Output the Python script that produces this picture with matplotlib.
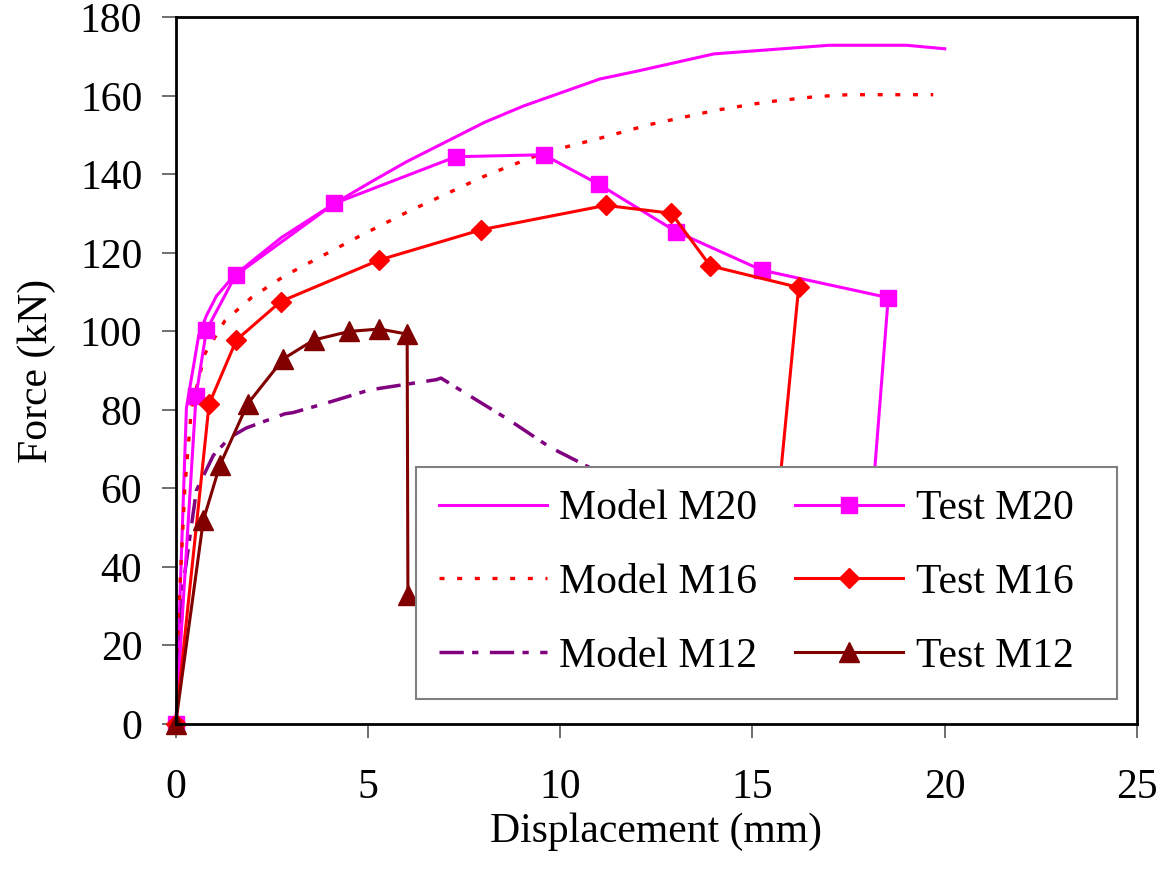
import matplotlib
matplotlib.use('Agg')
import matplotlib.pyplot as plt

plt.rcParams['font.family'] = ['Liberation Serif', 'DejaVu Serif']

# model curves (displacement mm, force kN)
model_m20_x = [0, 0.28, 0.6, 0.8, 1.06, 1.5, 2.1, 2.75, 4.13, 5.05, 6.0, 8.04, 9.04, 11.03, 12.0, 14.0, 17.0, 19.0, 20.0]
model_m20_y = [0, 80.5, 99.0, 104.0, 109.0, 114.0, 118.8, 123.9, 132.6, 137.9, 143.2, 153.3, 157.4, 164.3, 166.3, 170.7, 172.9, 172.9, 172.0]

model_m16_x = [0, 0.11, 0.24, 0.41, 0.76, 1.28, 1.97, 2.84, 4.79, 6.02, 8.04, 9.56, 11.03, 12.33, 14.03, 15.33, 16.63, 17.49, 19.7]
model_m16_y = [0, 34.9, 60.3, 80.3, 94.3, 102.7, 108.6, 114.2, 124.3, 130.4, 139.6, 145.5, 149.2, 152.7, 156.3, 158.4, 159.8, 160.3, 160.3]

model_m12_x = [0, 0.2, 0.54, 0.98, 1.41, 1.84, 2.84, 3.05, 3.84, 5.05, 6.78, 6.9, 7.56, 8.69, 9.73, 10.77, 12.5]
model_m12_y = [0, 35.8, 59.5, 68.4, 73.0, 75.4, 79.0, 79.3, 81.5, 85.1, 87.7, 88.1, 84.1, 77.3, 70.5, 65.3, 55.0]

# test results
test_m20_x = [0, 0.53, 0.8, 1.56, 4.13, 7.29, 9.57, 11.0, 13.02, 15.24, 18.53, 17.9]
test_m20_y = [0, 83.5, 100.3, 114.3, 132.6, 144.5, 145.0, 137.5, 125.4, 115.6, 108.6, 30.0]

test_m16_x = [0, 0.87, 1.58, 2.73, 5.30, 7.95, 11.18, 12.89, 13.90, 16.2, 15.4]
test_m16_y = [0, 81.5, 97.8, 107.6, 118.2, 125.9, 132.1, 130.1, 116.7, 111.2, 30.0]

test_m12_x = [0, 0.72, 1.15, 1.87, 2.80, 3.59, 4.52, 5.30, 6.02, 6.04]
test_m12_y = [0, 51.9, 65.9, 81.5, 93.0, 97.8, 100.0, 100.6, 99.3, 32.8]

x_ticks = [0, 5, 10, 15, 20, 25]
y_ticks = [0, 20, 40, 60, 80, 100, 120, 140, 160, 180]

fig = plt.figure(figsize=(11.71, 8.69), dpi=100)
ax = fig.add_axes([0.150, 0.167, 0.821, 0.813])

ax.plot(model_m20_x, model_m20_y, color='#ff00ff', lw=2.2, label='Model M20')
ax.plot(model_m16_x, model_m16_y, color='#ff0000', lw=2.4, linestyle=(0, (1.5, 3.8)), label='Model M16')
ax.plot(model_m12_x, model_m12_y, color='#800080', lw=2.5, linestyle=(0, (7, 2.4, 1.8, 3.3)), label='Model M12')

# trailing spaces widen the legend box like in the original
ax.plot(test_m20_x, test_m20_y, color='#ff00ff', lw=2.2, marker='s', markersize=11.5, clip_on=False, label='Test M20  ')
ax.plot(test_m16_x, test_m16_y, color='#ff0000', lw=2.2, marker='D', markersize=10, clip_on=False, label='Test M16  ')
ax.plot(test_m12_x, test_m12_y, color='#800000', lw=2.2, marker='^', markersize=14, clip_on=False, label='Test M12  ')

ax.set_xlim(0, 25)
ax.set_ylim(0, 180)
ax.set_xticks(x_ticks)
ax.set_yticks(y_ticks)
ax.tick_params(labelsize=30, length=10, width=1.2, color='#555555')
ax.tick_params(axis='x', pad=22)
ax.tick_params(axis='y', pad=14)
for s in ax.spines.values():
    s.set_linewidth(2)
    s.set_color('black')

ax.set_xlabel('Displacement (mm)', fontsize=30, labelpad=4)
ax.set_ylabel('Force (kN)', fontsize=30, labelpad=17)

leg = ax.legend(ncol=2, loc='lower left', bbox_to_anchor=(0.2497, 0.0354), fontsize=30,
                handlelength=2.6, handletextpad=0.3, columnspacing=0.9, labelspacing=0.85,
                borderpad=0.55, borderaxespad=0, fancybox=False, framealpha=1)
leg.get_frame().set_edgecolor('#808080')
leg.get_frame().set_linewidth(1.5)

fig.savefig('out.png', dpi=100)
